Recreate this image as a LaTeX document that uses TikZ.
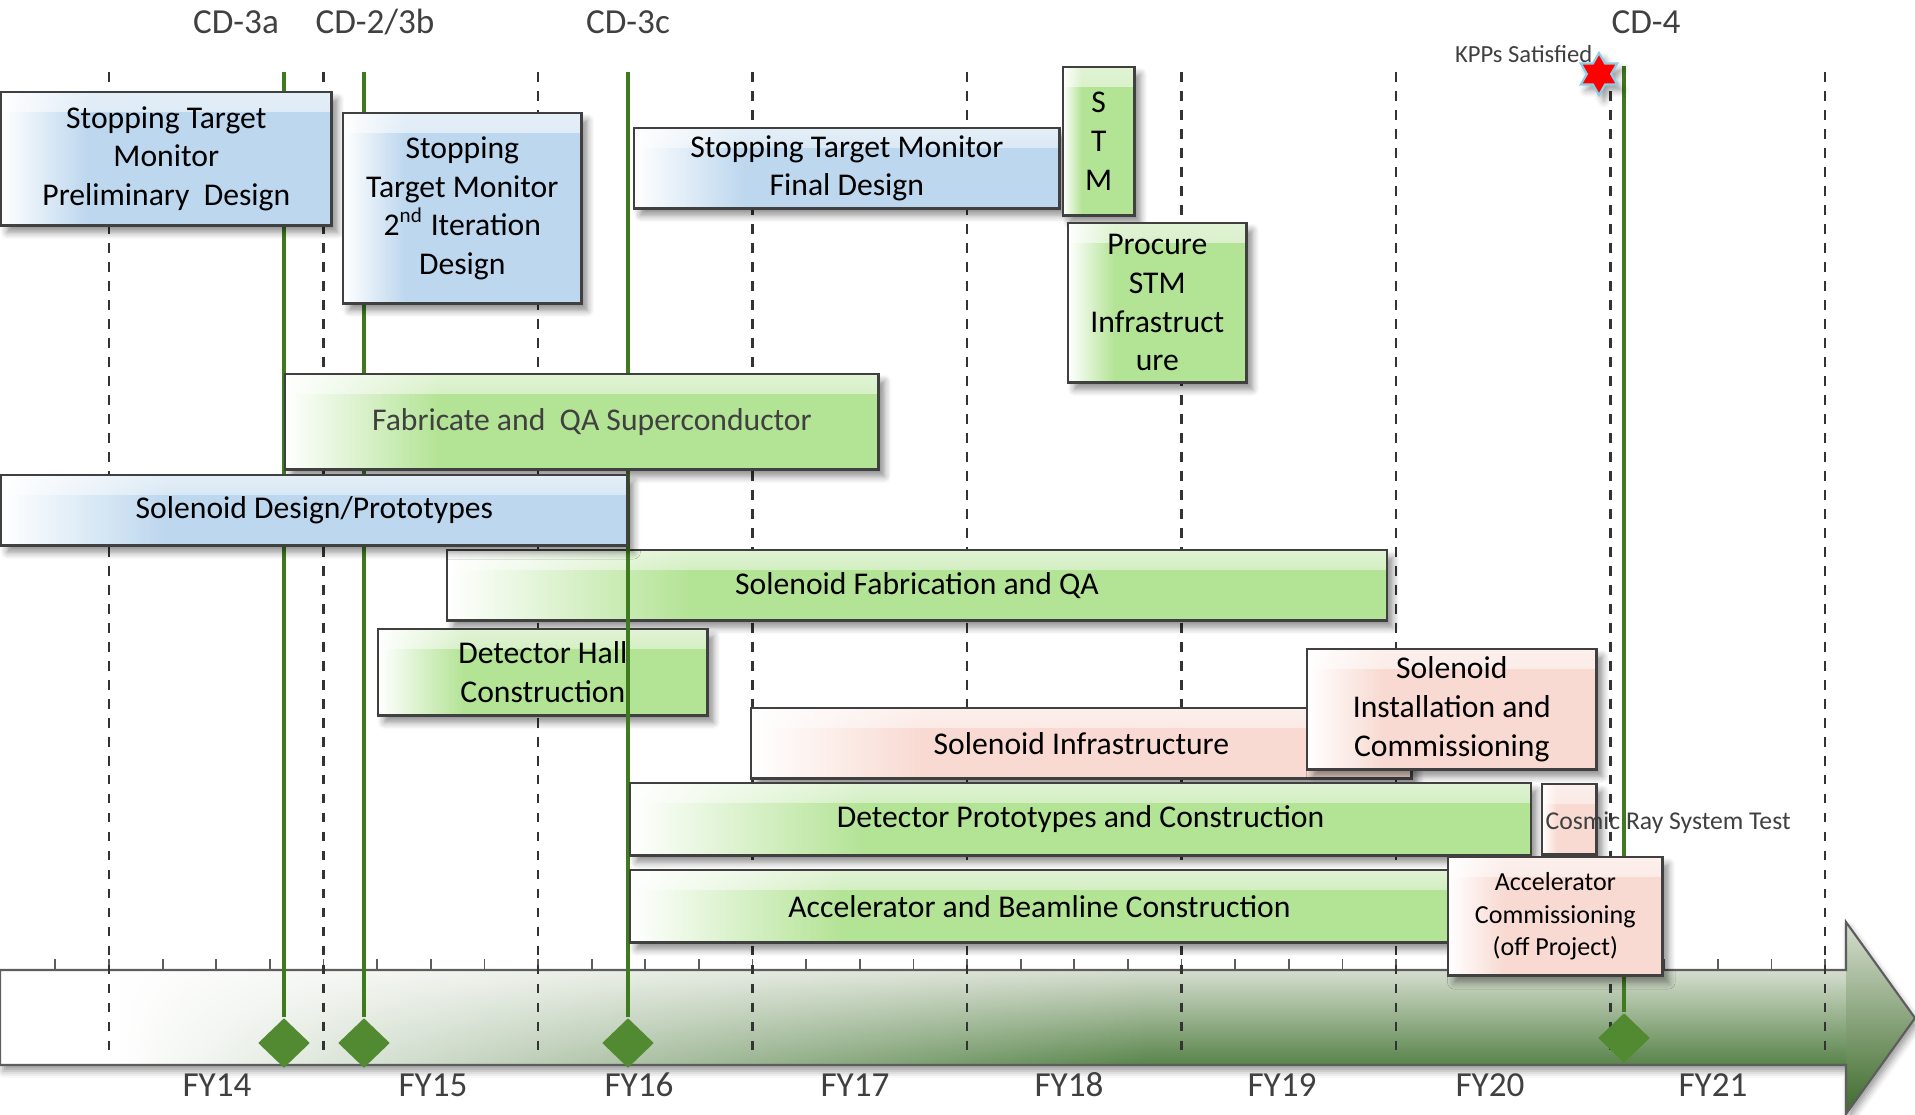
\documentclass[tikz,border=0pt]{standalone}
\usepackage{fontspec}
\setmainfont{Carlito}
\usepackage{tikz}
\usetikzlibrary{positioning,shapes.geometric,shadows.blur,fadings}
\definecolor{stmblue}{HTML}{BDD7EE}
\definecolor{stmgreen}{HTML}{B3E395}
\definecolor{stmpink}{HTML}{F8DAD2}
\definecolor{boxline}{HTML}{404040}
\definecolor{labgray}{HTML}{404040}
\definecolor{cdgreen}{HTML}{3F7B1E}
\definecolor{msgreen}{HTML}{518A30}
\definecolor{bandtop}{HTML}{D6DECF}
\definecolor{bandbottom}{HTML}{58844A}
\definecolor{headdark}{HTML}{3E6B2B}
\definecolor{starline}{HTML}{8CCDE6}
\pgfdeclarehorizontalshading{bluefill}{100bp}{color(0bp)=(white); color(25bp)=(white); color(38bp)=(stmblue); color(100bp)=(stmblue)}
\pgfdeclarehorizontalshading{greenfill}{100bp}{color(0bp)=(white); color(25bp)=(white); color(38bp)=(stmgreen); color(100bp)=(stmgreen)}
\pgfdeclarehorizontalshading{pinkfill}{100bp}{color(0bp)=(white); color(25bp)=(white); color(38bp)=(stmpink); color(100bp)=(stmpink)}
\tikzfading[name=fadeleft, left color=transparent!0, right color=transparent!100]
\tikzfading[name=fadedown, top color=transparent!0, bottom color=transparent!100]
\tikzset{
  task/.style={draw=boxline,line width=0.7pt,inner sep=0pt,align=center,anchor=north west,font={\fontsize{9}{11}\selectfont},
    blur shadow={shadow xshift=0.06cm,shadow yshift=-0.07cm,shadow blur steps=6,shadow opacity=45},
    path picture={\fill[white,opacity=0.6,path fading=fadedown] (path picture bounding box.north west) rectangle ([yshift=-0.2cm]path picture bounding box.north east);}},
  bluetask/.style={task,shading=bluefill},
  greentask/.style={task,shading=greenfill},
  pinktask/.style={task,shading=pinkfill},
  cdlabel/.style={text=labgray,font={\fontsize{10}{12}\selectfont}},
  fylabel/.style={text=labgray,font={\fontsize{10}{12}\selectfont}},
  yeargrid/.style={draw=black!80,line width=0.7pt,dash pattern=on 2.8pt off 2.6pt},
  msline/.style={draw=cdgreen,line width=1.2pt},
  milestone/.style={diamond,fill=msgreen,inner sep=0pt,minimum width=0.52cm,minimum height=0.50cm},
}

\begin{document}
\begin{tikzpicture}[x=0.01cm,y=-0.01cm]
\useasboundingbox (0,0) rectangle (1915,1114);
% timeline arrow
\path[blur shadow={shadow xshift=0.03cm,shadow yshift=-0.06cm}] (0,970) -- (1846,970) -- (1846,922) -- (1915,1018) -- (1846,1114) -- (1846,1065) -- (0,1065) -- cycle;
\shade[top color=bandtop,bottom color=bandbottom] (0,970) rectangle (1846,1065);
\fill[white] (0,970) rectangle (120,1065);
\fill[white,path fading=fadeleft] (120,970) rectangle (1150,1065);
\shade[top color=bandtop,bottom color=headdark] (1846,922) -- (1915,1018) -- (1846,1114) -- cycle;
\draw[boxline!85,line width=0.6pt] (0,970) -- (1846,970) -- (1846,922) -- (1915,1018) -- (1846,1114) -- (1846,1065) -- (0,1065) -- cycle;
\foreach \k in {-1,...,32}
  \draw[boxline!85,line width=0.5pt] ({109+53.625*\k},959) -- ({109+53.625*\k},970);
% fiscal year boundaries
\foreach \i in {0,...,8}
  \draw[yeargrid] ({109+214.5*\i},72) -- ({109+214.5*\i},1053);
% bars crossed by CD-3c
\node[greentask,minimum width=9.39cm,minimum height=0.70cm] (solfab) at (446,549) {Solenoid Fabrication and QA};
\node[greentask,minimum width=3.29cm,minimum height=0.86cm] (dethall) at (377,628) {Detector Hall\\Construction};
% milestones
\node[milestone] (cd3a) at (284,1043) {};
\node[milestone] (cd2b) at (364,1043) {};
\node[milestone] (cd3c) at (628,1043) {};
\node[milestone] (cd4) at (1624,1038) {};
\coordinate (cd3atop) at (284,72);
\coordinate (cd2btop) at (364,72);
\coordinate (cd3ctop) at (628,72);
\coordinate (cd4top) at (1624,66);
\draw[msline] (cd3atop) -- (cd3a.north);
\draw[msline] (cd2btop) -- (cd2b.north);
\draw[msline] (cd3ctop) -- (cd3c.north);
\draw[msline] (cd4top) -- (cd4.north);
% stopping target monitor
\node[bluetask,minimum width=3.30cm,minimum height=1.33cm] (prelim) at (0,91) {Stopping Target\\Monitor\\Preliminary\ \ Design};
\node[bluetask,minimum width=2.38cm,minimum height=1.90cm] (iter) at (342,112) {Stopping\\Target Monitor\\2\textsuperscript{nd} Iteration\\Design};
\node[bluetask,minimum width=4.25cm,minimum height=0.80cm] (final) at (633,127) {Stopping Target Monitor\\Final Design};
\node[greentask,minimum width=0.71cm,minimum height=1.48cm] (stm) at (1062,66) {S\\T\\M};
\node[greentask,minimum width=1.78cm,minimum height=1.59cm] (procure) at (1067,222) {Procure\\STM\\Infrastruct\\ure};
% solenoids
\node[greentask,minimum width=5.93cm,minimum height=0.95cm,text=labgray] (fabsc) at (284,373) {\hspace{0.2cm}Fabricate and\ \ QA Superconductor};
\node[bluetask,minimum width=6.26cm,minimum height=0.70cm] (soldes) at (0,474) {Solenoid Design/Prototypes};
\node[pinktask,minimum width=6.60cm,minimum height=0.70cm] (solinfra) at (750,707) {Solenoid Infrastructure};
\node[pinktask,minimum width=2.89cm,minimum height=1.20cm] (solinst) at (1306,648) {Solenoid\\Installation and\\Commissioning};
% detector and accelerator
\node[greentask,minimum width=9.00cm,minimum height=0.72cm] (detproto) at (629,782) {Detector Prototypes and Construction};
\node[pinktask,minimum width=0.54cm,minimum height=0.70cm] (crbox) at (1541,783) {};
\node[anchor=west,inner sep=0pt,text=labgray,font={\fontsize{7.3}{9}\selectfont}] (crtext) at (1545,823) {Cosmic Ray System Test};
\node[greentask,minimum width=8.18cm,minimum height=0.72cm] (accbeam) at (629,869) {Accelerator and Beamline Construction};
\node[pinktask,minimum width=2.14cm,minimum height=1.18cm,font={\fontsize{7.4}{9.2}\selectfont}] (acccomm) at (1447,856) {Accelerator\\Commissioning\\(off Project)};
% labels
\node[cdlabel] (lcd3a) at (236,22) {CD-3a};
\node[cdlabel] (lcd2b) at (375,22) {CD-2/3b};
\node[cdlabel] (lcd3c) at (628,22) {CD-3c};
\node[cdlabel] (lcd4) at (1646,22) {CD-4};
\node[star,star points=6,star point ratio=1.73,fill=red,draw=starline,line width=0.6pt,minimum size=0.42cm,inner sep=0pt,
  blur shadow={shadow xshift=0.05cm,shadow yshift=-0.06cm}] (kpp) at (1599,74) {};
\node[anchor=base east,inner sep=0pt,text=labgray,font={\fontsize{7}{8}\selectfont}] (kpptext) at (1593,62) {KPPs Satisfied};
\foreach \x/\t in {217/FY14,433/FY15,639/FY16,855/FY17,1069/FY18,1282/FY19,1490/FY20,1713/FY21}
  \node[fylabel] (\t) at (\x,1085) {\t};
\end{tikzpicture}
\end{document}
